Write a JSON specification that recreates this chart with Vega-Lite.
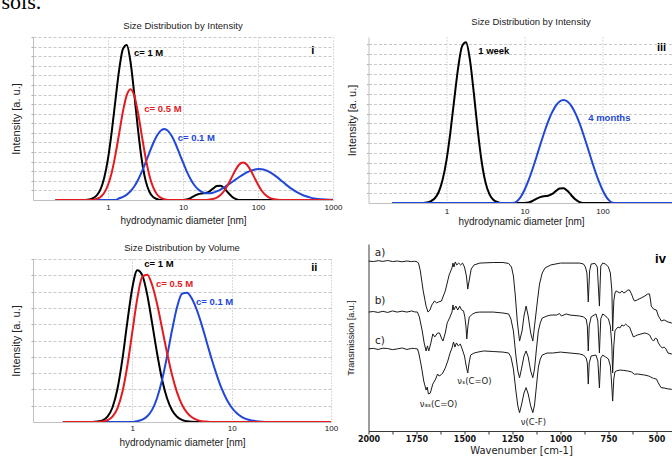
{
  "$schema": "https://vega.github.io/schema/vega-lite/v6.json",
  "background": "white",
  "padding": {"left": 1, "top": -9, "right": 0, "bottom": 4},
  "title": {"text": "sols.", "anchor": "start", "frame": "bounds", "font": "Liberation Serif", "fontSize": 22, "fontWeight": "normal", "color": "#000", "offset": 2.5, "dx": -8.5},
  "config": {
    "view": {"stroke": null},
    "font": "Liberation Sans",
    "title": {"font": "Liberation Sans", "fontSize": 9.5, "fontWeight": "normal", "color": "#222"},
    "axis": {"labelFont": "Liberation Sans", "titleFont": "Liberation Sans", "titleFontWeight": "normal"}
  },
  "datasets": {
    "dls": [
      {"panel":"i","series":"c= 1 M","d":0.2,"y":0},{"panel":"i","series":"c= 1 M","d":0.5,"y":0},{"panel":"i","series":"c= 1 M","d":0.562,"y":0.3},{"panel":"i","series":"c= 1 M","d":0.631,"y":1.1},{"panel":"i","series":"c= 1 M","d":0.708,"y":2.8},{"panel":"i","series":"c= 1 M","d":0.794,"y":6.5},{"panel":"i","series":"c= 1 M","d":0.891,"y":13.7},{"panel":"i","series":"c= 1 M","d":1,"y":25.4},{"panel":"i","series":"c= 1 M","d":1.122,"y":42},{"panel":"i","series":"c= 1 M","d":1.259,"y":61.6},{"panel":"i","series":"c= 1 M","d":1.413,"y":80.3},{"panel":"i","series":"c= 1 M","d":1.585,"y":92.8},{"panel":"i","series":"c= 1 M","d":1.778,"y":95.1},{"panel":"i","series":"c= 1 M","d":1.995,"y":84.8},{"panel":"i","series":"c= 1 M","d":2.239,"y":65.1},{"panel":"i","series":"c= 1 M","d":2.512,"y":43.2},{"panel":"i","series":"c= 1 M","d":2.818,"y":24.7},{"panel":"i","series":"c= 1 M","d":3.162,"y":12.2},{"panel":"i","series":"c= 1 M","d":3.548,"y":5.2},{"panel":"i","series":"c= 1 M","d":3.981,"y":1.9},{"panel":"i","series":"c= 1 M","d":4.467,"y":0.6},{"panel":"i","series":"c= 1 M","d":5.012,"y":0},{"panel":"i","series":"c= 1 M","d":10,"y":0},{"panel":"i","series":"c= 1 M","d":11.22,"y":0.3},{"panel":"i","series":"c= 1 M","d":12.59,"y":1.2},{"panel":"i","series":"c= 1 M","d":14.13,"y":2.5},{"panel":"i","series":"c= 1 M","d":15.85,"y":3.5},{"panel":"i","series":"c= 1 M","d":17.78,"y":4.0},{"panel":"i","series":"c= 1 M","d":19.95,"y":4.3},{"panel":"i","series":"c= 1 M","d":22.39,"y":5.2},{"panel":"i","series":"c= 1 M","d":25.12,"y":7.0},{"panel":"i","series":"c= 1 M","d":28.18,"y":8.6},{"panel":"i","series":"c= 1 M","d":31.62,"y":8.8},{"panel":"i","series":"c= 1 M","d":35.48,"y":7.2},{"panel":"i","series":"c= 1 M","d":39.81,"y":4.6},{"panel":"i","series":"c= 1 M","d":44.67,"y":2.2},{"panel":"i","series":"c= 1 M","d":50.12,"y":0.7},{"panel":"i","series":"c= 1 M","d":56.23,"y":0},{"panel":"i","series":"c= 1 M","d":1000,"y":0},
      {"panel":"i","series":"c= 0.1 M","d":0.2,"y":0},{"panel":"i","series":"c= 0.1 M","d":1.259,"y":0},{"panel":"i","series":"c= 0.1 M","d":1.413,"y":1.06},{"panel":"i","series":"c= 0.1 M","d":1.585,"y":1.9},{"panel":"i","series":"c= 0.1 M","d":1.778,"y":3.3},{"panel":"i","series":"c= 0.1 M","d":1.995,"y":5.4},{"panel":"i","series":"c= 0.1 M","d":2.239,"y":8.3},{"panel":"i","series":"c= 0.1 M","d":2.512,"y":12.3},{"panel":"i","series":"c= 0.1 M","d":2.818,"y":17.2},{"panel":"i","series":"c= 0.1 M","d":3.162,"y":22.8},{"panel":"i","series":"c= 0.1 M","d":3.548,"y":28.8},{"panel":"i","series":"c= 0.1 M","d":3.981,"y":34.5},{"panel":"i","series":"c= 0.1 M","d":4.467,"y":39.2},{"panel":"i","series":"c= 0.1 M","d":5.012,"y":42.4},{"panel":"i","series":"c= 0.1 M","d":5.623,"y":43.5},{"panel":"i","series":"c= 0.1 M","d":6.31,"y":42.4},{"panel":"i","series":"c= 0.1 M","d":7.079,"y":39.2},{"panel":"i","series":"c= 0.1 M","d":7.943,"y":34.5},{"panel":"i","series":"c= 0.1 M","d":8.913,"y":28.8},{"panel":"i","series":"c= 0.1 M","d":10,"y":23.1},{"panel":"i","series":"c= 0.1 M","d":11.22,"y":17.6},{"panel":"i","series":"c= 0.1 M","d":12.59,"y":12.9},{"panel":"i","series":"c= 0.1 M","d":14.13,"y":9.2},{"panel":"i","series":"c= 0.1 M","d":15.85,"y":6.6},{"panel":"i","series":"c= 0.1 M","d":17.78,"y":5.0},{"panel":"i","series":"c= 0.1 M","d":19.95,"y":4.2},{"panel":"i","series":"c= 0.1 M","d":22.39,"y":4.1},{"panel":"i","series":"c= 0.1 M","d":25.12,"y":4.5},{"panel":"i","series":"c= 0.1 M","d":28.18,"y":5.3},{"panel":"i","series":"c= 0.1 M","d":31.62,"y":6.4},{"panel":"i","series":"c= 0.1 M","d":35.48,"y":7.8},{"panel":"i","series":"c= 0.1 M","d":39.81,"y":9.25},{"panel":"i","series":"c= 0.1 M","d":44.67,"y":10.9},{"panel":"i","series":"c= 0.1 M","d":50.12,"y":12.5},{"panel":"i","series":"c= 0.1 M","d":56.23,"y":14.1},{"panel":"i","series":"c= 0.1 M","d":63.1,"y":15.6},{"panel":"i","series":"c= 0.1 M","d":70.79,"y":16.9},{"panel":"i","series":"c= 0.1 M","d":79.43,"y":17.9},{"panel":"i","series":"c= 0.1 M","d":89.13,"y":18.6},{"panel":"i","series":"c= 0.1 M","d":100,"y":19.0},{"panel":"i","series":"c= 0.1 M","d":112.2,"y":18.9},{"panel":"i","series":"c= 0.1 M","d":125.9,"y":18.3},{"panel":"i","series":"c= 0.1 M","d":141.3,"y":17.3},{"panel":"i","series":"c= 0.1 M","d":158.5,"y":15.9},{"panel":"i","series":"c= 0.1 M","d":177.8,"y":14.2},{"panel":"i","series":"c= 0.1 M","d":199.5,"y":12.3},{"panel":"i","series":"c= 0.1 M","d":223.9,"y":10.4},{"panel":"i","series":"c= 0.1 M","d":251.2,"y":8.5},{"panel":"i","series":"c= 0.1 M","d":281.8,"y":6.8},{"panel":"i","series":"c= 0.1 M","d":316.2,"y":5.3},{"panel":"i","series":"c= 0.1 M","d":354.8,"y":4.0},{"panel":"i","series":"c= 0.1 M","d":398.1,"y":2.9},{"panel":"i","series":"c= 0.1 M","d":446.7,"y":2.1},{"panel":"i","series":"c= 0.1 M","d":501.2,"y":1.46},{"panel":"i","series":"c= 0.1 M","d":562.3,"y":0.98},{"panel":"i","series":"c= 0.1 M","d":631,"y":0.65},{"panel":"i","series":"c= 0.1 M","d":707.9,"y":0.41},{"panel":"i","series":"c= 0.1 M","d":794.3,"y":0.26},{"panel":"i","series":"c= 0.1 M","d":891.3,"y":0.16},{"panel":"i","series":"c= 0.1 M","d":1000,"y":0.1},
      {"panel":"i","series":"c= 0.5 M","d":0.2,"y":0},{"panel":"i","series":"c= 0.5 M","d":0.631,"y":0},{"panel":"i","series":"c= 0.5 M","d":0.708,"y":0.75},{"panel":"i","series":"c= 0.5 M","d":0.794,"y":1.9},{"panel":"i","series":"c= 0.5 M","d":0.891,"y":4.5},{"panel":"i","series":"c= 0.5 M","d":1,"y":9.2},{"panel":"i","series":"c= 0.5 M","d":1.122,"y":16.9},{"panel":"i","series":"c= 0.5 M","d":1.259,"y":28},{"panel":"i","series":"c= 0.5 M","d":1.413,"y":41.2},{"panel":"i","series":"c= 0.5 M","d":1.585,"y":54.5},{"panel":"i","series":"c= 0.5 M","d":1.778,"y":64.3},{"panel":"i","series":"c= 0.5 M","d":1.995,"y":68},{"panel":"i","series":"c= 0.5 M","d":2.239,"y":64.1},{"panel":"i","series":"c= 0.5 M","d":2.512,"y":53.6},{"panel":"i","series":"c= 0.5 M","d":2.818,"y":39.8},{"panel":"i","series":"c= 0.5 M","d":3.162,"y":26.3},{"panel":"i","series":"c= 0.5 M","d":3.548,"y":15.4},{"panel":"i","series":"c= 0.5 M","d":3.981,"y":8.0},{"panel":"i","series":"c= 0.5 M","d":4.467,"y":3.7},{"panel":"i","series":"c= 0.5 M","d":5.012,"y":1.5},{"panel":"i","series":"c= 0.5 M","d":5.623,"y":0.5},{"panel":"i","series":"c= 0.5 M","d":6.31,"y":0},{"panel":"i","series":"c= 0.5 M","d":19.95,"y":0},{"panel":"i","series":"c= 0.5 M","d":22.39,"y":0.25},{"panel":"i","series":"c= 0.5 M","d":25.12,"y":0.66},{"panel":"i","series":"c= 0.5 M","d":28.18,"y":1.5},{"panel":"i","series":"c= 0.5 M","d":31.62,"y":3.1},{"panel":"i","series":"c= 0.5 M","d":35.48,"y":5.7},{"panel":"i","series":"c= 0.5 M","d":39.81,"y":9.5},{"panel":"i","series":"c= 0.5 M","d":44.67,"y":13.9},{"panel":"i","series":"c= 0.5 M","d":50.12,"y":18.4},{"panel":"i","series":"c= 0.5 M","d":56.23,"y":21.8},{"panel":"i","series":"c= 0.5 M","d":63.1,"y":23},{"panel":"i","series":"c= 0.5 M","d":70.79,"y":21.8},{"panel":"i","series":"c= 0.5 M","d":79.43,"y":18.4},{"panel":"i","series":"c= 0.5 M","d":89.13,"y":13.9},{"panel":"i","series":"c= 0.5 M","d":100,"y":9.5},{"panel":"i","series":"c= 0.5 M","d":112.2,"y":5.7},{"panel":"i","series":"c= 0.5 M","d":125.9,"y":3.1},{"panel":"i","series":"c= 0.5 M","d":141.3,"y":1.5},{"panel":"i","series":"c= 0.5 M","d":158.5,"y":0.66},{"panel":"i","series":"c= 0.5 M","d":177.8,"y":0.25},{"panel":"i","series":"c= 0.5 M","d":199.5,"y":0},{"panel":"i","series":"c= 0.5 M","d":1000,"y":0},
      {"panel":"ii","series":"c= 1 M","d":0.2,"y":0},{"panel":"ii","series":"c= 1 M","d":0.398,"y":0},{"panel":"ii","series":"c= 1 M","d":0.447,"y":0.3},{"panel":"ii","series":"c= 1 M","d":0.501,"y":1.0},{"panel":"ii","series":"c= 1 M","d":0.562,"y":3.3},{"panel":"ii","series":"c= 1 M","d":0.631,"y":8.9},{"panel":"ii","series":"c= 1 M","d":0.708,"y":20.2},{"panel":"ii","series":"c= 1 M","d":0.794,"y":38.4},{"panel":"ii","series":"c= 1 M","d":0.891,"y":61.4},{"panel":"ii","series":"c= 1 M","d":1,"y":82.4},{"panel":"ii","series":"c= 1 M","d":1.122,"y":93.1},{"panel":"ii","series":"c= 1 M","d":1.259,"y":90.1},{"panel":"ii","series":"c= 1 M","d":1.413,"y":78.0},{"panel":"ii","series":"c= 1 M","d":1.585,"y":60.4},{"panel":"ii","series":"c= 1 M","d":1.778,"y":41.9},{"panel":"ii","series":"c= 1 M","d":1.995,"y":25.9},{"panel":"ii","series":"c= 1 M","d":2.239,"y":14.4},{"panel":"ii","series":"c= 1 M","d":2.512,"y":7.2},{"panel":"ii","series":"c= 1 M","d":2.818,"y":3.2},{"panel":"ii","series":"c= 1 M","d":3.162,"y":1.3},{"panel":"ii","series":"c= 1 M","d":3.548,"y":0.45},{"panel":"ii","series":"c= 1 M","d":3.981,"y":0.1},{"panel":"ii","series":"c= 1 M","d":4.467,"y":0},{"panel":"ii","series":"c= 1 M","d":100,"y":0},
      {"panel":"ii","series":"c= 0.1 M","d":0.2,"y":0},{"panel":"ii","series":"c= 0.1 M","d":1,"y":0},{"panel":"ii","series":"c= 0.1 M","d":1.122,"y":0.5},{"panel":"ii","series":"c= 0.1 M","d":1.259,"y":1.4},{"panel":"ii","series":"c= 0.1 M","d":1.413,"y":3.5},{"panel":"ii","series":"c= 0.1 M","d":1.585,"y":7.6},{"panel":"ii","series":"c= 0.1 M","d":1.778,"y":14.9},{"panel":"ii","series":"c= 0.1 M","d":1.995,"y":25.9},{"panel":"ii","series":"c= 0.1 M","d":2.239,"y":40.4},{"panel":"ii","series":"c= 0.1 M","d":2.512,"y":56.4},{"panel":"ii","series":"c= 0.1 M","d":2.818,"y":70.4},{"panel":"ii","series":"c= 0.1 M","d":3.162,"y":78.7},{"panel":"ii","series":"c= 0.1 M","d":3.548,"y":79.3},{"panel":"ii","series":"c= 0.1 M","d":3.981,"y":75.6},{"panel":"ii","series":"c= 0.1 M","d":4.467,"y":68.6},{"panel":"ii","series":"c= 0.1 M","d":5.012,"y":59.3},{"panel":"ii","series":"c= 0.1 M","d":5.623,"y":48.8},{"panel":"ii","series":"c= 0.1 M","d":6.31,"y":38.3},{"panel":"ii","series":"c= 0.1 M","d":7.079,"y":28.8},{"panel":"ii","series":"c= 0.1 M","d":7.943,"y":20.4},{"panel":"ii","series":"c= 0.1 M","d":8.913,"y":13.8},{"panel":"ii","series":"c= 0.1 M","d":10,"y":8.9},{"panel":"ii","series":"c= 0.1 M","d":11.22,"y":5.5},{"panel":"ii","series":"c= 0.1 M","d":12.59,"y":3.2},{"panel":"ii","series":"c= 0.1 M","d":14.13,"y":1.8},{"panel":"ii","series":"c= 0.1 M","d":15.85,"y":1.0},{"panel":"ii","series":"c= 0.1 M","d":17.78,"y":0.5},{"panel":"ii","series":"c= 0.1 M","d":19.95,"y":0.2},{"panel":"ii","series":"c= 0.1 M","d":22.39,"y":0},{"panel":"ii","series":"c= 0.1 M","d":100,"y":0},
      {"panel":"ii","series":"c= 0.5 M","d":0.2,"y":0},{"panel":"ii","series":"c= 0.5 M","d":0.447,"y":0},{"panel":"ii","series":"c= 0.5 M","d":0.501,"y":0.3},{"panel":"ii","series":"c= 0.5 M","d":0.562,"y":1.1},{"panel":"ii","series":"c= 0.5 M","d":0.631,"y":3.3},{"panel":"ii","series":"c= 0.5 M","d":0.708,"y":8.4},{"panel":"ii","series":"c= 0.5 M","d":0.794,"y":18.4},{"panel":"ii","series":"c= 0.5 M","d":0.891,"y":34.5},{"panel":"ii","series":"c= 0.5 M","d":1,"y":55.3},{"panel":"ii","series":"c= 0.5 M","d":1.122,"y":75.8},{"panel":"ii","series":"c= 0.5 M","d":1.259,"y":89.1},{"panel":"ii","series":"c= 0.5 M","d":1.413,"y":90.4},{"panel":"ii","series":"c= 0.5 M","d":1.585,"y":83.9},{"panel":"ii","series":"c= 0.5 M","d":1.778,"y":72.2},{"panel":"ii","series":"c= 0.5 M","d":1.995,"y":57.4},{"panel":"ii","series":"c= 0.5 M","d":2.239,"y":42.3},{"panel":"ii","series":"c= 0.5 M","d":2.512,"y":28.8},{"panel":"ii","series":"c= 0.5 M","d":2.818,"y":18.2},{"panel":"ii","series":"c= 0.5 M","d":3.162,"y":10.6},{"panel":"ii","series":"c= 0.5 M","d":3.548,"y":5.8},{"panel":"ii","series":"c= 0.5 M","d":3.981,"y":2.9},{"panel":"ii","series":"c= 0.5 M","d":4.467,"y":1.3},{"panel":"ii","series":"c= 0.5 M","d":5.012,"y":0.5},{"panel":"ii","series":"c= 0.5 M","d":5.623,"y":0.2},{"panel":"ii","series":"c= 0.5 M","d":6.31,"y":0},{"panel":"ii","series":"c= 0.5 M","d":100,"y":0},
      {"panel":"iii","series":"1 week","d":0.2,"y":0},{"panel":"iii","series":"1 week","d":0.5,"y":0},{"panel":"iii","series":"1 week","d":0.562,"y":0.3},{"panel":"iii","series":"1 week","d":0.631,"y":1.1},{"panel":"iii","series":"1 week","d":0.708,"y":2.8},{"panel":"iii","series":"1 week","d":0.794,"y":6.5},{"panel":"iii","series":"1 week","d":0.891,"y":13.7},{"panel":"iii","series":"1 week","d":1,"y":25.4},{"panel":"iii","series":"1 week","d":1.122,"y":42},{"panel":"iii","series":"1 week","d":1.259,"y":61.6},{"panel":"iii","series":"1 week","d":1.413,"y":80.3},{"panel":"iii","series":"1 week","d":1.585,"y":92.8},{"panel":"iii","series":"1 week","d":1.778,"y":95.1},{"panel":"iii","series":"1 week","d":1.995,"y":84.8},{"panel":"iii","series":"1 week","d":2.239,"y":65.1},{"panel":"iii","series":"1 week","d":2.512,"y":43.2},{"panel":"iii","series":"1 week","d":2.818,"y":24.7},{"panel":"iii","series":"1 week","d":3.162,"y":12.2},{"panel":"iii","series":"1 week","d":3.548,"y":5.2},{"panel":"iii","series":"1 week","d":3.981,"y":1.9},{"panel":"iii","series":"1 week","d":4.467,"y":0.6},{"panel":"iii","series":"1 week","d":5.012,"y":0},{"panel":"iii","series":"1 week","d":10,"y":0},{"panel":"iii","series":"1 week","d":11.22,"y":0.3},{"panel":"iii","series":"1 week","d":12.59,"y":1.2},{"panel":"iii","series":"1 week","d":14.13,"y":2.5},{"panel":"iii","series":"1 week","d":15.85,"y":3.5},{"panel":"iii","series":"1 week","d":17.78,"y":4.0},{"panel":"iii","series":"1 week","d":19.95,"y":4.3},{"panel":"iii","series":"1 week","d":22.39,"y":5.2},{"panel":"iii","series":"1 week","d":25.12,"y":7.0},{"panel":"iii","series":"1 week","d":28.18,"y":8.6},{"panel":"iii","series":"1 week","d":31.62,"y":8.8},{"panel":"iii","series":"1 week","d":35.48,"y":7.2},{"panel":"iii","series":"1 week","d":39.81,"y":4.6},{"panel":"iii","series":"1 week","d":44.67,"y":2.2},{"panel":"iii","series":"1 week","d":50.12,"y":0.7},{"panel":"iii","series":"1 week","d":56.23,"y":0},{"panel":"iii","series":"1 week","d":1000,"y":0},
      {"panel":"iii","series":"4 months","d":0.2,"y":0},{"panel":"iii","series":"4 months","d":7.079,"y":0},{"panel":"iii","series":"4 months","d":7.943,"y":0.9},{"panel":"iii","series":"4 months","d":8.913,"y":3.5},{"panel":"iii","series":"4 months","d":10,"y":7.7},{"panel":"iii","series":"4 months","d":11.22,"y":13.2},{"panel":"iii","series":"4 months","d":12.59,"y":19.7},{"panel":"iii","series":"4 months","d":14.13,"y":26.8},{"panel":"iii","series":"4 months","d":15.85,"y":34.2},{"panel":"iii","series":"4 months","d":17.78,"y":41.3},{"panel":"iii","series":"4 months","d":19.95,"y":47.8},{"panel":"iii","series":"4 months","d":22.39,"y":53.3},{"panel":"iii","series":"4 months","d":25.12,"y":57.5},{"panel":"iii","series":"4 months","d":28.18,"y":60.1},{"panel":"iii","series":"4 months","d":31.62,"y":61},{"panel":"iii","series":"4 months","d":35.48,"y":60.1},{"panel":"iii","series":"4 months","d":39.81,"y":57.5},{"panel":"iii","series":"4 months","d":44.67,"y":53.3},{"panel":"iii","series":"4 months","d":50.12,"y":47.8},{"panel":"iii","series":"4 months","d":56.23,"y":41.3},{"panel":"iii","series":"4 months","d":63.1,"y":34.2},{"panel":"iii","series":"4 months","d":70.79,"y":26.8},{"panel":"iii","series":"4 months","d":79.43,"y":19.7},{"panel":"iii","series":"4 months","d":89.13,"y":13.2},{"panel":"iii","series":"4 months","d":100,"y":7.7},{"panel":"iii","series":"4 months","d":112.2,"y":3.5},{"panel":"iii","series":"4 months","d":125.9,"y":0.9},{"panel":"iii","series":"4 months","d":141.3,"y":0},{"panel":"iii","series":"4 months","d":1000,"y":0}
    ],
    "lab": [
      {"panel":"i","series":"c= 1 M","text":"c= 1 M","d":2.22,"y":90.4},
      {"panel":"i","series":"c= 0.5 M","text":"c= 0.5 M","d":3.05,"y":55.6},
      {"panel":"i","series":"c= 0.1 M","text":"c= 0.1 M","d":8.5,"y":38.2},
      {"panel":"ii","series":"c= 1 M","text":"c= 1 M","d":1.32,"y":96.9},
      {"panel":"ii","series":"c= 0.5 M","text":"c= 0.5 M","d":1.73,"y":84.6},
      {"panel":"ii","series":"c= 0.1 M","text":"c= 0.1 M","d":4.38,"y":73.9},
      {"panel":"iii","series":"1 week","text":"1 week","d":2.55,"y":89.9},
      {"panel":"iii","series":"4 months","text":"4 months","d":65.6,"y":50.5}
    ],
    "num": [
      {"panel":"i","text":"i","d":536,"y":91.4},
      {"panel":"ii","text":"ii","d":67.9,"y":94.5},
      {"panel":"iii","text":"iii","d":570,"y":91.9}
    ],
    "ir": [
      {"trace":"a","wn":2000,"t":90.9},{"trace":"a","wn":1975,"t":90.6},{"trace":"a","wn":1950,"t":91.1},{"trace":"a","wn":1925,"t":90.7},{"trace":"a","wn":1900,"t":91.2},{"trace":"a","wn":1875,"t":90.6},{"trace":"a","wn":1850,"t":90.9},{"trace":"a","wn":1825,"t":90.5},{"trace":"a","wn":1800,"t":90.9},{"trace":"a","wn":1775,"t":90.6},{"trace":"a","wn":1760,"t":90.8},{"trace":"a","wn":1745,"t":90.4},{"trace":"a","wn":1738,"t":89.3},{"trace":"a","wn":1730,"t":85.6},{"trace":"a","wn":1715,"t":74.9},{"trace":"a","wn":1700,"t":66.8},{"trace":"a","wn":1690,"t":63.6},{"trace":"a","wn":1680,"t":64.7},{"trace":"a","wn":1670,"t":67.4},{"trace":"a","wn":1656,"t":69.5},{"trace":"a","wn":1645,"t":68.5},{"trace":"a","wn":1635,"t":69.0},{"trace":"a","wn":1620,"t":69.5},{"trace":"a","wn":1600,"t":74.9},{"trace":"a","wn":1580,"t":83.4},{"trace":"a","wn":1565,"t":87.2},{"trace":"a","wn":1560,"t":89.8},{"trace":"a","wn":1555,"t":87.7},{"trace":"a","wn":1548,"t":90.4},{"trace":"a","wn":1540,"t":88.8},{"trace":"a","wn":1530,"t":89.8},{"trace":"a","wn":1520,"t":88.8},{"trace":"a","wn":1510,"t":89.8},{"trace":"a","wn":1500,"t":87.7},{"trace":"a","wn":1490,"t":82.9},{"trace":"a","wn":1483,"t":75.9},{"trace":"a","wn":1476,"t":80.2},{"trace":"a","wn":1465,"t":86.6},{"trace":"a","wn":1450,"t":88.8},{"trace":"a","wn":1420,"t":89.8},{"trace":"a","wn":1350,"t":90.1},{"trace":"a","wn":1300,"t":90.1},{"trace":"a","wn":1270,"t":89.6},{"trace":"a","wn":1255,"t":87.7},{"trace":"a","wn":1245,"t":82.9},{"trace":"a","wn":1235,"t":72.2},{"trace":"a","wn":1225,"t":58.8},{"trace":"a","wn":1213,"t":48.1},{"trace":"a","wn":1200,"t":53.5},{"trace":"a","wn":1190,"t":61.5},{"trace":"a","wn":1179,"t":66.8},{"trace":"a","wn":1168,"t":61.5},{"trace":"a","wn":1155,"t":52.4},{"trace":"a","wn":1144,"t":48.1},{"trace":"a","wn":1135,"t":56.2},{"trace":"a","wn":1120,"t":69.5},{"trace":"a","wn":1109,"t":78.6},{"trace":"a","wn":1095,"t":84.5},{"trace":"a","wn":1080,"t":87.2},{"trace":"a","wn":1050,"t":88.8},{"trace":"a","wn":1000,"t":89.8},{"trace":"a","wn":950,"t":89.8},{"trace":"a","wn":900,"t":89.8},{"trace":"a","wn":880,"t":89.3},{"trace":"a","wn":870,"t":87.7},{"trace":"a","wn":862,"t":84.5},{"trace":"a","wn":855,"t":69.0},{"trace":"a","wn":848,"t":85.6},{"trace":"a","wn":840,"t":89.3},{"trace":"a","wn":820,"t":89.6},{"trace":"a","wn":808,"t":87.7},{"trace":"a","wn":797,"t":66.8},{"trace":"a","wn":790,"t":88.2},{"trace":"a","wn":780,"t":89.8},{"trace":"a","wn":765,"t":89.3},{"trace":"a","wn":750,"t":87.7},{"trace":"a","wn":740,"t":84.5},{"trace":"a","wn":732,"t":74.9},{"trace":"a","wn":728,"t":53.5},{"trace":"a","wn":722,"t":69.5},{"trace":"a","wn":716,"t":73.8},{"trace":"a","wn":710,"t":74.9},{"trace":"a","wn":700,"t":74.3},{"trace":"a","wn":690,"t":73.8},{"trace":"a","wn":680,"t":74.9},{"trace":"a","wn":670,"t":73.8},{"trace":"a","wn":660,"t":74.3},{"trace":"a","wn":650,"t":75.4},{"trace":"a","wn":640,"t":75.4},{"trace":"a","wn":630,"t":73.3},{"trace":"a","wn":620,"t":70.6},{"trace":"a","wn":614,"t":69.5},{"trace":"a","wn":600,"t":70.1},{"trace":"a","wn":580,"t":71.1},{"trace":"a","wn":560,"t":72.2},{"trace":"a","wn":545,"t":73.3},{"trace":"a","wn":536,"t":73.3},{"trace":"a","wn":530,"t":69.5},{"trace":"a","wn":527,"t":66.8},{"trace":"a","wn":515,"t":65.2},{"trace":"a","wn":500,"t":64.7},{"trace":"a","wn":490,"t":61.5},{"trace":"a","wn":480,"t":59.9},{"trace":"a","wn":475,"t":58.8},{"trace":"a","wn":460,"t":59.4},{"trace":"a","wn":440,"t":58.3},{"trace":"a","wn":422,"t":57.8},{"trace":"a","wn":411,"t":57.8},
      {"trace":"b","wn":2000,"t":63.6},{"trace":"b","wn":1975,"t":63.9},{"trace":"b","wn":1950,"t":63.4},{"trace":"b","wn":1925,"t":64.0},{"trace":"b","wn":1900,"t":63.4},{"trace":"b","wn":1875,"t":64.2},{"trace":"b","wn":1850,"t":63.6},{"trace":"b","wn":1825,"t":64.1},{"trace":"b","wn":1800,"t":63.6},{"trace":"b","wn":1775,"t":64.2},{"trace":"b","wn":1760,"t":63.7},{"trace":"b","wn":1745,"t":63.6},{"trace":"b","wn":1735,"t":61.0},{"trace":"b","wn":1720,"t":53.5},{"trace":"b","wn":1710,"t":47.1},{"trace":"b","wn":1700,"t":42.8},{"trace":"b","wn":1693,"t":45.5},{"trace":"b","wn":1686,"t":42.8},{"trace":"b","wn":1675,"t":47.1},{"trace":"b","wn":1665,"t":51.9},{"trace":"b","wn":1655,"t":50.3},{"trace":"b","wn":1640,"t":52.4},{"trace":"b","wn":1630,"t":52.4},{"trace":"b","wn":1620,"t":49.7},{"trace":"b","wn":1612,"t":48.1},{"trace":"b","wn":1600,"t":52.4},{"trace":"b","wn":1590,"t":57.8},{"trace":"b","wn":1578,"t":60.4},{"trace":"b","wn":1565,"t":63.6},{"trace":"b","wn":1560,"t":67.4},{"trace":"b","wn":1555,"t":64.7},{"trace":"b","wn":1545,"t":66.8},{"trace":"b","wn":1535,"t":64.7},{"trace":"b","wn":1525,"t":66.8},{"trace":"b","wn":1515,"t":64.7},{"trace":"b","wn":1505,"t":64.2},{"trace":"b","wn":1498,"t":61.0},{"trace":"b","wn":1492,"t":55.6},{"trace":"b","wn":1488,"t":49.2},{"trace":"b","wn":1482,"t":56.2},{"trace":"b","wn":1475,"t":61.0},{"trace":"b","wn":1457,"t":62.6},{"trace":"b","wn":1440,"t":63.4},{"trace":"b","wn":1420,"t":63.6},{"trace":"b","wn":1350,"t":63.6},{"trace":"b","wn":1300,"t":63.1},{"trace":"b","wn":1270,"t":62.6},{"trace":"b","wn":1258,"t":59.9},{"trace":"b","wn":1245,"t":53.5},{"trace":"b","wn":1232,"t":40.1},{"trace":"b","wn":1222,"t":32.1},{"trace":"b","wn":1213,"t":28.5},{"trace":"b","wn":1203,"t":33.2},{"trace":"b","wn":1190,"t":40.1},{"trace":"b","wn":1179,"t":42.8},{"trace":"b","wn":1168,"t":39.6},{"trace":"b","wn":1155,"t":32.1},{"trace":"b","wn":1144,"t":28.5},{"trace":"b","wn":1135,"t":33.2},{"trace":"b","wn":1125,"t":43.9},{"trace":"b","wn":1115,"t":53.5},{"trace":"b","wn":1105,"t":57.8},{"trace":"b","wn":1095,"t":60.4},{"trace":"b","wn":1070,"t":61.5},{"trace":"b","wn":1050,"t":62.0},{"trace":"b","wn":1020,"t":62.0},{"trace":"b","wn":1005,"t":62.8},{"trace":"b","wn":995,"t":61.5},{"trace":"b","wn":970,"t":62.6},{"trace":"b","wn":950,"t":62.0},{"trace":"b","wn":900,"t":61.5},{"trace":"b","wn":880,"t":61.0},{"trace":"b","wn":866,"t":59.9},{"trace":"b","wn":860,"t":56.2},{"trace":"b","wn":855,"t":42.8},{"trace":"b","wn":850,"t":56.2},{"trace":"b","wn":840,"t":61.0},{"trace":"b","wn":815,"t":62.6},{"trace":"b","wn":805,"t":58.8},{"trace":"b","wn":797,"t":41.7},{"trace":"b","wn":790,"t":59.9},{"trace":"b","wn":780,"t":62.6},{"trace":"b","wn":765,"t":61.5},{"trace":"b","wn":750,"t":59.9},{"trace":"b","wn":740,"t":56.2},{"trace":"b","wn":732,"t":45.5},{"trace":"b","wn":728,"t":31.0},{"trace":"b","wn":722,"t":45.5},{"trace":"b","wn":716,"t":53.5},{"trace":"b","wn":710,"t":54.5},{"trace":"b","wn":700,"t":55.6},{"trace":"b","wn":690,"t":55.1},{"trace":"b","wn":680,"t":56.7},{"trace":"b","wn":670,"t":56.2},{"trace":"b","wn":660,"t":57.2},{"trace":"b","wn":650,"t":56.2},{"trace":"b","wn":640,"t":55.6},{"trace":"b","wn":630,"t":52.9},{"trace":"b","wn":620,"t":50.3},{"trace":"b","wn":610,"t":50.8},{"trace":"b","wn":600,"t":51.3},{"trace":"b","wn":580,"t":51.9},{"trace":"b","wn":560,"t":52.4},{"trace":"b","wn":545,"t":51.9},{"trace":"b","wn":535,"t":51.3},{"trace":"b","wn":525,"t":49.2},{"trace":"b","wn":515,"t":48.1},{"trace":"b","wn":505,"t":49.7},{"trace":"b","wn":497,"t":49.2},{"trace":"b","wn":490,"t":47.1},{"trace":"b","wn":480,"t":45.5},{"trace":"b","wn":470,"t":44.4},{"trace":"b","wn":460,"t":44.9},{"trace":"b","wn":450,"t":43.9},{"trace":"b","wn":440,"t":41.7},{"trace":"b","wn":422,"t":41.2},{"trace":"b","wn":411,"t":41.2},
      {"trace":"c","wn":2000,"t":43.9},{"trace":"c","wn":1975,"t":44.2},{"trace":"c","wn":1950,"t":43.6},{"trace":"c","wn":1925,"t":44.3},{"trace":"c","wn":1900,"t":44.1},{"trace":"c","wn":1875,"t":43.5},{"trace":"c","wn":1850,"t":43.9},{"trace":"c","wn":1825,"t":44.4},{"trace":"c","wn":1800,"t":43.6},{"trace":"c","wn":1775,"t":44.2},{"trace":"c","wn":1760,"t":44.1},{"trace":"c","wn":1745,"t":43.9},{"trace":"c","wn":1738,"t":41.7},{"trace":"c","wn":1725,"t":34.8},{"trace":"c","wn":1712,"t":26.7},{"trace":"c","wn":1700,"t":21.9},{"trace":"c","wn":1694,"t":23.5},{"trace":"c","wn":1688,"t":19.8},{"trace":"c","wn":1678,"t":20.3},{"trace":"c","wn":1665,"t":25.1},{"trace":"c","wn":1650,"t":27.8},{"trace":"c","wn":1640,"t":30.5},{"trace":"c","wn":1632,"t":29.4},{"trace":"c","wn":1620,"t":30.2},{"trace":"c","wn":1613,"t":31.0},{"trace":"c","wn":1600,"t":33.7},{"trace":"c","wn":1587,"t":37.4},{"trace":"c","wn":1575,"t":41.7},{"trace":"c","wn":1565,"t":44.4},{"trace":"c","wn":1557,"t":47.6},{"trace":"c","wn":1550,"t":44.9},{"trace":"c","wn":1542,"t":47.1},{"trace":"c","wn":1532,"t":45.5},{"trace":"c","wn":1522,"t":46.5},{"trace":"c","wn":1512,"t":43.9},{"trace":"c","wn":1500,"t":40.1},{"trace":"c","wn":1490,"t":34.2},{"trace":"c","wn":1483,"t":31.0},{"trace":"c","wn":1476,"t":36.4},{"trace":"c","wn":1468,"t":40.6},{"trace":"c","wn":1450,"t":41.7},{"trace":"c","wn":1430,"t":42.2},{"trace":"c","wn":1400,"t":42.8},{"trace":"c","wn":1350,"t":42.5},{"trace":"c","wn":1300,"t":42.2},{"trace":"c","wn":1270,"t":41.7},{"trace":"c","wn":1258,"t":39.6},{"trace":"c","wn":1245,"t":33.2},{"trace":"c","wn":1232,"t":21.4},{"trace":"c","wn":1222,"t":13.4},{"trace":"c","wn":1213,"t":9.8},{"trace":"c","wn":1203,"t":13.9},{"trace":"c","wn":1190,"t":20.3},{"trace":"c","wn":1179,"t":23.2},{"trace":"c","wn":1168,"t":19.8},{"trace":"c","wn":1155,"t":13.4},{"trace":"c","wn":1144,"t":9.8},{"trace":"c","wn":1135,"t":13.9},{"trace":"c","wn":1125,"t":24.1},{"trace":"c","wn":1115,"t":34.2},{"trace":"c","wn":1105,"t":38.5},{"trace":"c","wn":1095,"t":40.6},{"trace":"c","wn":1070,"t":41.7},{"trace":"c","wn":1040,"t":41.7},{"trace":"c","wn":1000,"t":42.2},{"trace":"c","wn":950,"t":41.7},{"trace":"c","wn":900,"t":41.2},{"trace":"c","wn":880,"t":40.6},{"trace":"c","wn":866,"t":39.0},{"trace":"c","wn":860,"t":36.4},{"trace":"c","wn":855,"t":25.1},{"trace":"c","wn":850,"t":36.4},{"trace":"c","wn":840,"t":40.1},{"trace":"c","wn":815,"t":40.6},{"trace":"c","wn":805,"t":37.4},{"trace":"c","wn":797,"t":23.0},{"trace":"c","wn":790,"t":39.0},{"trace":"c","wn":780,"t":40.6},{"trace":"c","wn":765,"t":39.6},{"trace":"c","wn":750,"t":38.5},{"trace":"c","wn":740,"t":34.8},{"trace":"c","wn":734,"t":26.7},{"trace":"c","wn":728,"t":16.0},{"trace":"c","wn":722,"t":27.8},{"trace":"c","wn":716,"t":31.6},{"trace":"c","wn":710,"t":32.1},{"trace":"c","wn":690,"t":32.6},{"trace":"c","wn":670,"t":32.4},{"trace":"c","wn":650,"t":32.1},{"trace":"c","wn":630,"t":31.6},{"trace":"c","wn":614,"t":30.3},{"trace":"c","wn":600,"t":30.5},{"trace":"c","wn":580,"t":30.2},{"trace":"c","wn":560,"t":29.9},{"trace":"c","wn":540,"t":29.4},{"trace":"c","wn":530,"t":28.9},{"trace":"c","wn":515,"t":28.1},{"trace":"c","wn":500,"t":27.8},{"trace":"c","wn":490,"t":25.7},{"trace":"c","wn":476,"t":23.2},{"trace":"c","wn":460,"t":23.0},{"trace":"c","wn":440,"t":22.5},{"trace":"c","wn":422,"t":22.3},{"trace":"c","wn":411,"t":22.3}
    ],
    "irtrace": [
      {"text":"a)","wn":1940,"t":95.3},{"text":"b)","wn":1940,"t":69.5},{"text":"c)","wn":1940,"t":48.1}
    ],
    "irband": [
      {"text":"νₐₛ(C=O)","wn":1635,"t":14.3},{"text":"νₛ(C=O)","wn":1448,"t":26.7},{"text":"ν(C-F)","wn":1141,"t":4.8}
    ],
    "irnum": [{"text":"iv","wn":479,"t":92}]
  },
  "spacing": 4.5,
  "hconcat": [
    {
      "spacing": 18,
      "vconcat": [
        {
          "width": 300, "height": 163,
          "title": {"text": "Size Distribution by Intensity", "offset": 6},
          "encoding": {
            "x": {"field": "d", "type": "quantitative", "scale": {"type": "log", "domain": [0.1, 1000], "nice": false},
                  "axis": {"title": "hydrodynamic diameter [nm]", "values": [1, 10, 100, 1000], "format": "d", "labelFlush": false, "labelOverlap": false, "ticks": false, "grid": true, "gridDash": [1, 2], "gridColor": "#b4b4b4", "domainColor": "#c0c0c0", "labelFontSize": 8, "labelColor": "#111", "labelPadding": 3, "titleFontSize": 10, "titlePadding": 4, "titleColor": "#222"}},
            "y": {"field": "y", "type": "quantitative", "scale": {"domain": [0, 100], "nice": false},
                  "axis": {"title": "Intensity [a. u.]", "values": [5.88, 11.76, 17.65, 23.53, 29.41, 35.29, 41.18, 47.06, 52.94, 58.82, 64.71, 70.59, 76.47, 82.35, 88.24, 94.12, 100], "labels": false, "tickSize": 2, "tickColor": "#aaa", "grid": true, "gridDash": [3, 2], "gridColor": "#c8c8c8", "domainColor": "#c0c0c0", "titleFontSize": 11, "titlePadding": 9.5, "titleColor": "#222"}}
          },
          "layer": [
            {"data": {"name": "dls"}, "transform": [{"filter": "datum.panel == 'i'"}],
             "mark": {"type": "line", "strokeWidth": 2, "interpolate": "monotone", "clip": true},
             "encoding": {"color": {"field": "series", "type": "nominal", "legend": null, "scale": {"domain": ["c= 1 M", "c= 0.5 M", "c= 0.1 M", "1 week", "4 months"], "range": ["#000000", "#e11b1f", "#2147d9", "#000000", "#2147d9"]}}}},
            {"data": {"name": "lab"}, "transform": [{"filter": "datum.panel == 'i'"}],
             "mark": {"type": "text", "align": "left", "baseline": "middle", "fontWeight": "bold", "fontSize": 9.5, "font": "Liberation Sans"},
             "encoding": {"text": {"field": "text"}, "color": {"field": "series", "type": "nominal", "legend": null, "scale": {"domain": ["c= 1 M", "c= 0.5 M", "c= 0.1 M", "1 week", "4 months"], "range": ["#000000", "#e11b1f", "#2147d9", "#000000", "#2147d9"]}}}},
            {"data": {"name": "num"}, "transform": [{"filter": "datum.panel == 'i'"}],
             "mark": {"type": "text", "align": "center", "baseline": "middle", "fontWeight": "bold", "fontSize": 11, "font": "Liberation Sans", "color": "#000"},
             "encoding": {"text": {"field": "text"}}}
          ]
        },
        {
          "width": 298, "height": 163,
          "title": {"text": "Size Distribution by Volume", "offset": 6},
          "encoding": {
            "x": {"field": "d", "type": "quantitative", "scale": {"type": "log", "domain": [0.1, 100], "nice": false},
                  "axis": {"title": "hydrodynamic diameter [nm]", "values": [1, 10, 100], "format": "d", "labelFlush": false, "labelOverlap": false, "ticks": false, "grid": true, "gridDash": [1, 2], "gridColor": "#b4b4b4", "domainColor": "#c0c0c0", "labelFontSize": 8, "labelColor": "#111", "labelPadding": 2, "titleFontSize": 10, "titlePadding": 5, "titleColor": "#222"}},
            "y": {"field": "y", "type": "quantitative", "scale": {"domain": [0, 100], "nice": false},
                  "axis": {"title": "Intensity [a. u.]", "values": [10, 20, 30, 40, 50, 60, 70, 80, 90, 100], "labels": false, "tickSize": 2, "tickColor": "#aaa", "grid": true, "gridDash": [3, 2], "gridColor": "#c8c8c8", "domainColor": "#c0c0c0", "titleFontSize": 11, "titlePadding": 9.5, "titleColor": "#222"}}
          },
          "layer": [
            {"data": {"name": "dls"}, "transform": [{"filter": "datum.panel == 'ii'"}],
             "mark": {"type": "line", "strokeWidth": 2, "interpolate": "monotone", "clip": true},
             "encoding": {"color": {"field": "series", "type": "nominal", "legend": null, "scale": {"domain": ["c= 1 M", "c= 0.5 M", "c= 0.1 M", "1 week", "4 months"], "range": ["#000000", "#e11b1f", "#2147d9", "#000000", "#2147d9"]}}}},
            {"data": {"name": "lab"}, "transform": [{"filter": "datum.panel == 'ii'"}],
             "mark": {"type": "text", "align": "left", "baseline": "middle", "fontWeight": "bold", "fontSize": 9.5, "font": "Liberation Sans"},
             "encoding": {"text": {"field": "text"}, "color": {"field": "series", "type": "nominal", "legend": null, "scale": {"domain": ["c= 1 M", "c= 0.5 M", "c= 0.1 M", "1 week", "4 months"], "range": ["#000000", "#e11b1f", "#2147d9", "#000000", "#2147d9"]}}}},
            {"data": {"name": "num"}, "transform": [{"filter": "datum.panel == 'ii'"}],
             "mark": {"type": "text", "align": "center", "baseline": "middle", "fontWeight": "bold", "fontSize": 11, "font": "Liberation Sans", "color": "#000"},
             "encoding": {"text": {"field": "text"}}}
          ]
        }
      ]
    },
    {
      "spacing": 18,
      "vconcat": [
        {
          "width": 305, "height": 166,
          "title": {"text": "Size Distribution by Intensity", "offset": 11, "dx": 10},
          "encoding": {
            "x": {"field": "d", "type": "quantitative", "scale": {"type": "log", "domain": [0.1, 813], "nice": false},
                  "axis": {"title": "hydrodynamic diameter [nm]", "values": [1, 10, 100], "format": "d", "labelFlush": false, "labelOverlap": false, "ticks": false, "grid": true, "gridDash": [1, 2], "gridColor": "#b4b4b4", "domainColor": "#c0c0c0", "labelFontSize": 8, "labelColor": "#111", "labelPadding": 4, "titleFontSize": 10, "titlePadding": 1, "titleColor": "#222"}},
            "y": {"field": "y", "type": "quantitative", "scale": {"domain": [0, 98.22], "nice": false},
                  "axis": {"title": "Intensity [a. u.]", "values": [5.88, 11.76, 17.65, 23.53, 29.41, 35.29, 41.18, 47.06, 52.94, 58.82, 64.71, 70.59, 76.47, 82.35, 88.24, 94.12], "labels": false, "tickSize": 2, "tickColor": "#aaa", "grid": true, "gridDash": [3, 2], "gridColor": "#c8c8c8", "domainColor": "#c0c0c0", "titleFontSize": 11, "titlePadding": 8.5, "titleColor": "#222"}}
          },
          "layer": [
            {"data": {"values": [{}]}, "mark": {"type": "rule", "color": "#c8c8c8", "strokeDash": [3, 2], "strokeWidth": 1}, "encoding": {"y": {"datum": 100}}},
            {"data": {"name": "dls"}, "transform": [{"filter": "datum.panel == 'iii'"}],
             "mark": {"type": "line", "strokeWidth": 2, "interpolate": "monotone", "clip": true},
             "encoding": {"color": {"field": "series", "type": "nominal", "legend": null, "scale": {"domain": ["c= 1 M", "c= 0.5 M", "c= 0.1 M", "1 week", "4 months"], "range": ["#000000", "#e11b1f", "#2147d9", "#000000", "#2147d9"]}}}},
            {"data": {"name": "lab"}, "transform": [{"filter": "datum.panel == 'iii'"}],
             "mark": {"type": "text", "align": "left", "baseline": "middle", "fontWeight": "bold", "fontSize": 9.5, "font": "Liberation Sans"},
             "encoding": {"text": {"field": "text"}, "color": {"field": "series", "type": "nominal", "legend": null, "scale": {"domain": ["c= 1 M", "c= 0.5 M", "c= 0.1 M", "1 week", "4 months"], "range": ["#000000", "#e11b1f", "#2147d9", "#000000", "#2147d9"]}}}},
            {"data": {"name": "num"}, "transform": [{"filter": "datum.panel == 'iii'"}],
             "mark": {"type": "text", "align": "center", "baseline": "middle", "fontWeight": "bold", "fontSize": 11, "font": "Liberation Sans", "color": "#000"},
             "encoding": {"text": {"field": "text"}}}
          ]
        },
        {
          "width": 305, "height": 187,
          "encoding": {
            "x": {"field": "wn", "type": "quantitative", "scale": {"domain": [411, 2000], "reverse": true, "nice": false, "zero": false},
                  "axis": {"title": "Wavenumber [cm-1]", "values": [500, 625, 750, 875, 1000, 1125, 1250, 1375, 1500, 1625, 1750, 1875, 2000], "format": "d", "labelExpr": "datum.value % 250 === 0 ? datum.label : ''", "labelFlush": false, "labelOverlap": false, "grid": false, "tickSize": 3, "tickColor": "#333", "domainColor": "#3a3a3a", "labelFont": "DejaVu Sans", "labelFontWeight": "bold", "labelFontSize": 8, "labelColor": "#111", "labelPadding": 1, "titleFont": "DejaVu Sans", "titleFontSize": 10, "titlePadding": 2, "titleColor": "#222"}},
            "y": {"field": "t", "type": "quantitative", "scale": {"domain": [0, 100], "nice": false},
                  "axis": {"title": "Transmission [a.u.]", "labels": false, "ticks": false, "grid": false, "domainColor": "#3a3a3a", "titleFontSize": 9, "titlePadding": 13, "titleColor": "#222"}}
          },
          "layer": [
            {"data": {"values": [{}]}, "mark": {"type": "rule", "color": "#3a3a3a", "strokeWidth": 1}, "encoding": {"y": {"datum": 100}}},
            {"data": {"name": "ir"}, "mark": {"type": "line", "strokeWidth": 1, "color": "#1a1a1a", "clip": true}, "encoding": {"detail": {"field": "trace"}}},
            {"data": {"name": "irtrace"}, "mark": {"type": "text", "align": "center", "baseline": "middle", "font": "DejaVu Sans", "fontSize": 10.5, "color": "#222"}, "encoding": {"text": {"field": "text"}}},
            {"data": {"name": "irband"}, "mark": {"type": "text", "align": "center", "baseline": "middle", "font": "DejaVu Sans", "fontSize": 8.5, "color": "#222"}, "encoding": {"text": {"field": "text"}}},
            {"data": {"name": "irnum"}, "mark": {"type": "text", "align": "center", "baseline": "middle", "font": "Liberation Sans", "fontWeight": "bold", "fontSize": 13, "color": "#000"}, "encoding": {"text": {"field": "text"}}}
          ]
        }
      ]
    }
  ]
}
